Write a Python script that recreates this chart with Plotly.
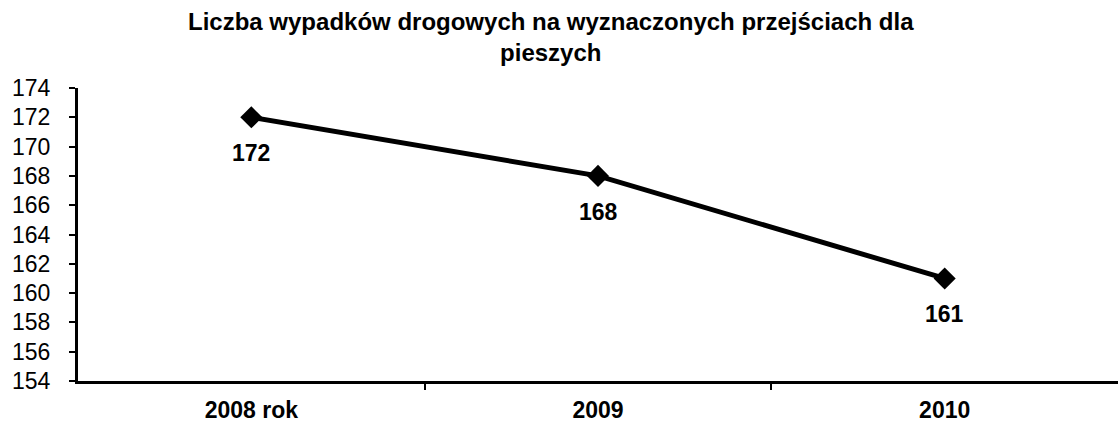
import plotly.graph_objects as go

categories = ["2008 rok", "2009", "2010"]
values = [172, 168, 161]
y_ticks = list(range(154, 175, 2))
title_text = "Liczba wypadków drogowych na wyznaczonych przejściach dla<br>pieszych"

font_family = "Liberation Sans, Arial, sans-serif"

fig = go.Figure()
fig.add_trace(go.Scatter(
    x=list(range(len(categories))), y=values, mode="lines+markers",
    line=dict(color="black", width=5),
    marker=dict(symbol="diamond", size=17, color="black"),
    cliponaxis=False, showlegend=False,
))

for i, v in enumerate(values):
    fig.add_annotation(x=i, y=v, text=f"<b>{v}</b>", showarrow=False,
                       yshift=-36, font=dict(size=23, color="black", family=font_family))

# title as a paper-anchored annotation
fig.add_annotation(
    xref="paper", yref="paper", x=0.455, y=1.28, xanchor="center", yanchor="top",
    text=f"<b>{title_text}</b>", showarrow=False, align="center",
    font=dict(size=24, color="black", family=font_family),
)

fig.update_layout(
    width=1118, height=425,
    margin=dict(l=78, r=0, t=88, b=44, autoexpand=False),
    paper_bgcolor="white", plot_bgcolor="white",
    font=dict(family=font_family, color="black"),
)
fig.update_xaxes(
    range=[-0.5, 2.5], showgrid=False, zeroline=False,
    showline=True, linecolor="black", linewidth=3,
    ticks="", tickfont=dict(size=23, color="black", family=font_family),
    tickvals=list(range(len(categories))), ticktext=[f"<b>{c}</b>" for c in categories],
    ticklabelstandoff=6, automargin=False,
    minor=dict(tickvals=[0.5, 1.5], ticks="outside", ticklen=6, tickwidth=2, tickcolor="black"),
)
fig.update_yaxes(
    range=[154, 174], showgrid=False, zeroline=False,
    showline=True, linecolor="black", linewidth=3,
    ticks="outside", ticklen=6, tickwidth=2, tickcolor="black",
    tickvals=y_ticks, tickfont=dict(size=23, color="black", family=font_family),
    ticklabelstandoff=14, automargin=False,
)

fig.write_html("out.html", config={"displayModeBar": False},
               post_script="document.body.style.margin='0';")
